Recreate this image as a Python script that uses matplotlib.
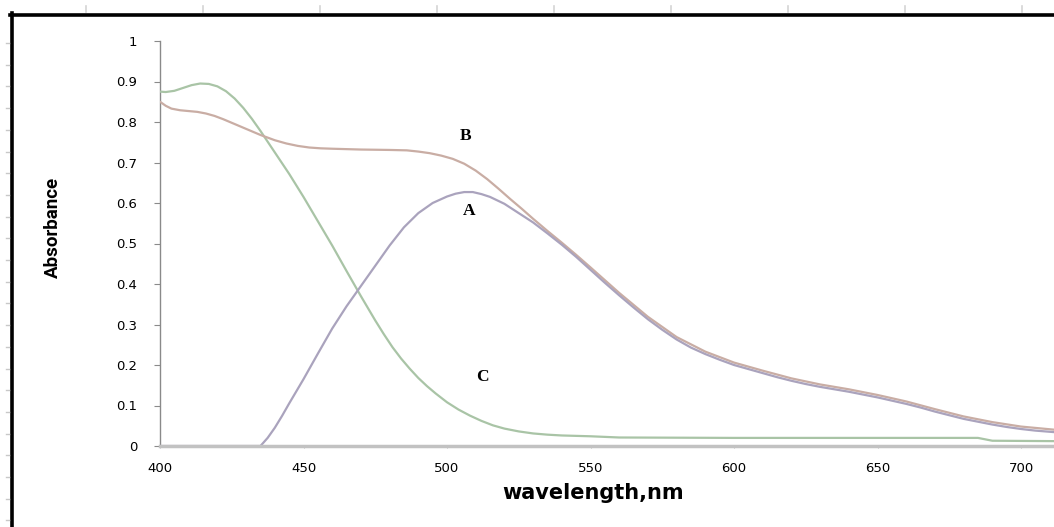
import numpy as np
import matplotlib
matplotlib.use("Agg")
import matplotlib.pyplot as plt
from matplotlib.lines import Line2D

# Curve A (lavender)
wl_A = [400, 435, 437.5, 440, 442.5, 445, 450, 455, 460, 465, 470, 475, 480,
        485, 490, 495, 500, 503, 506, 509, 512, 515, 520, 525, 530, 535, 540,
        545, 550, 555, 560, 565, 570, 575, 580, 585, 590, 595, 600, 605, 610,
        615, 620, 625, 630, 635, 640, 645, 650, 655, 660, 665, 670, 675, 680,
        685, 690, 695, 700, 705, 712]
abs_A = [0.0, 0.0, 0.020, 0.045, 0.074, 0.105, 0.165, 0.228, 0.290, 0.345,
         0.395, 0.445, 0.495, 0.540, 0.575, 0.600, 0.616, 0.623, 0.627, 0.627,
         0.622, 0.615, 0.598, 0.575, 0.552, 0.525, 0.497, 0.467, 0.435, 0.403,
         0.372, 0.342, 0.313, 0.287, 0.263, 0.243, 0.227, 0.213, 0.200, 0.190,
         0.180, 0.170, 0.161, 0.153, 0.146, 0.140, 0.134, 0.127, 0.120, 0.112,
         0.104, 0.095, 0.085, 0.076, 0.067, 0.060, 0.053, 0.047, 0.042, 0.038,
         0.034]

# Curve B (orange-brown)
wl_B = [400, 402, 404, 407, 410, 413, 416, 419, 422, 425, 430, 435, 440, 444,
        448, 452, 456, 460, 470, 480, 486, 490, 494, 498, 502, 506, 510, 514,
        518, 522, 526, 530, 535, 540, 545, 550, 560, 570, 580, 590, 600, 610,
        620, 630, 640, 650, 660, 670, 680, 690, 700, 712]
abs_B = [0.850, 0.840, 0.833, 0.829, 0.827, 0.825, 0.821, 0.815, 0.807, 0.798,
         0.783, 0.768, 0.755, 0.747, 0.741, 0.737, 0.735, 0.734, 0.732, 0.731,
         0.730, 0.727, 0.723, 0.717, 0.709, 0.697, 0.680, 0.659, 0.635, 0.610,
         0.586, 0.561, 0.531, 0.502, 0.472, 0.441, 0.378, 0.319, 0.269, 0.233,
         0.206, 0.186, 0.167, 0.152, 0.140, 0.126, 0.110, 0.091, 0.073, 0.059,
         0.048, 0.040]

# Curve C (green)
wl_C = [400, 402, 405, 408, 411, 414, 417, 420, 423, 426, 429, 432, 435, 440,
        445, 450, 455, 460, 465, 470, 475, 478, 481, 484, 487, 490, 493, 496,
        500, 504, 508, 512, 516, 520, 525, 530, 535, 540, 550, 560, 600, 650,
        685, 690, 712]
abs_C = [0.875, 0.874, 0.877, 0.884, 0.891, 0.895, 0.894, 0.888, 0.876, 0.858,
         0.835, 0.808, 0.778, 0.725, 0.672, 0.615, 0.555, 0.495, 0.432, 0.370,
         0.310, 0.276, 0.244, 0.216, 0.191, 0.168, 0.148, 0.130, 0.108, 0.090,
         0.075, 0.062, 0.051, 0.043, 0.036, 0.031, 0.028, 0.026, 0.024, 0.021,
         0.020, 0.020, 0.020, 0.013, 0.012]

curve_labels = ["A", "B", "C"]
label_pos = [(507.7, 0.580), (506.6, 0.765), (512.5, 0.170)]

W, H = 1054, 527
fig = plt.figure(figsize=(W / 100, H / 100), dpi=100)

ax_left, ax_right = 160, 1054
ax_top, ax_bottom = 41, 446
ax = fig.add_axes([ax_left / W, 1 - ax_bottom / H,
                   (ax_right - ax_left) / W, (ax_bottom - ax_top) / H])

style = dict(lw=1.6, solid_joinstyle="round", solid_capstyle="round")
ax.plot(wl_C, abs_C, color="#a9c4a6", zorder=3, **style)
ax.plot(wl_B, abs_B, color="#c9ada4", zorder=3, **style)
ax.plot(wl_A, abs_A, color="#aaa3bd", zorder=4, **style)

ax.set_xlim(400, 400 + (ax_right - ax_left) / 2.87)
ax.set_ylim(0, 1)
ax.set_xticks([400, 450, 500, 550, 600, 650, 700])
ax.set_yticks(np.round(np.arange(0, 1.01, 0.1), 1))
ax.set_yticklabels(["0", "0.1", "0.2", "0.3", "0.4", "0.5", "0.6", "0.7",
                    "0.8", "0.9", "1"])

for s in ["top", "right"]:
    ax.spines[s].set_visible(False)
ax.spines["left"].set_color("#8a8a8a")
ax.spines["left"].set_linewidth(1.0)
ax.spines["bottom"].set_color("#c2c2c2")
ax.spines["bottom"].set_linewidth(2.5)
ax.spines["bottom"].set_zorder(5)

ax.tick_params(axis="y", direction="out", length=4.5, width=0.8,
               color="#8a8a8a", pad=12, labelsize=9.5)
ax.tick_params(axis="x", direction="out", length=1.5, width=0.8,
               color="#bbbbbb", pad=10, labelsize=9.5)

for lab, (x, y) in zip(curve_labels, label_pos):
    ax.text(x, y, lab, fontsize=12.5, fontweight="bold",
            family=["Liberation Serif", "DejaVu Serif"],
            ha="center", va="center", zorder=6)

fig.text(593 / W, 1 - 493 / H, "wavelength,nm", fontsize=15, fontweight="bold",
         ha="center", va="center")
fig.text(53 / W, 1 - 227 / H, "Absorbance", fontsize=13.5, fontweight="bold",
         rotation=90, ha="center", va="center",
         family=["Roboto", "DejaVu Sans"])

# page frame and ruler marks
fig.add_artist(Line2D([10 / W, 1], [1 - 14.5 / H, 1 - 14.5 / H],
                      color="black", lw=2.6, transform=fig.transFigure))
fig.add_artist(Line2D([11.5 / W, 11.5 / W], [0, 1 - 13 / H],
                      color="black", lw=2.6, transform=fig.transFigure))
for px in np.arange(86, W, 117):
    fig.add_artist(Line2D([px / W, px / W], [1 - 6 / H, 1 - 12 / H],
                          color="#d4d4d4", lw=1.2, transform=fig.transFigure))
for py in np.arange(43, H, 21.7):
    fig.add_artist(Line2D([6 / W, 9 / W], [1 - py / H, 1 - py / H],
                          color="#c8c8c8", lw=1.0, transform=fig.transFigure))

fig.savefig("out.png", dpi=100, facecolor="white")
